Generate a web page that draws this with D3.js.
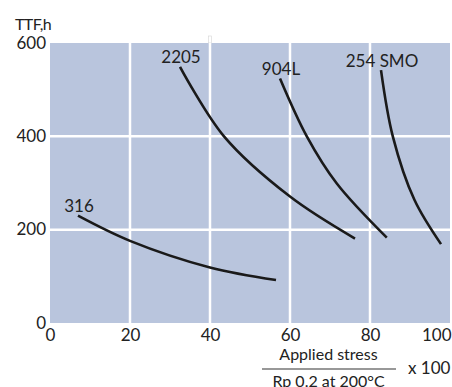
<!DOCTYPE html>
<html>
<head>
<meta charset="utf-8">
<script src="https://cdn.jsdelivr.net/npm/d3@7"></script>
<style>
  html, body { margin: 0; padding: 0; background: #fff; }
  svg { display: block; }
  text { font-family: Lato, "Open Sans", sans-serif; fill: #222; }
</style>
</head>
<body>
<script>
// ---- data ----
const xTicks = [0, 20, 40, 60, 80, 100];
const yTicks = [0, 200, 400, 600];
const seriesNames = ["316", "2205", "904L", "254 SMO"];
const s316 = [[7, 230], [20, 176], [40, 119], [56.5, 92]];
const s2205 = [[32.5, 549], [43.5, 400], [60, 271], [76.25, 181]];
const s904L = [[57.5, 524], [64.2, 400], [71.7, 299], [84.2, 183]];
const s254 = [[82.75, 542], [85.7, 400], [91.1, 264], [97.75, 169]];
const seriesValues = [s316, s2205, s904L, s254];
const yTitle = "TTF,h";
const xTitleTop = "Applied stress";
const xTitleBottom = "Rp 0.2 at 200°C";
const xTitleFactor = "x 100";

// ---- layout ----
const W = 452, H = 387;
const pL = 50, pR = 450, pT = 43, pB = 323;

const svg = d3.select("body").append("svg").attr("width", W).attr("height", H);

const x = d3.scaleLinear().domain([0, 100]).range([pL, pR]);
const y = d3.scaleLinear().domain([0, 600]).range([pB, pT]);

// plot background
svg.append("rect")
  .attr("x", pL).attr("y", pT)
  .attr("width", pR - pL).attr("height", pB - pT)
  .attr("fill", "#b9c5dd");

// small stub above plot at x=40
svg.append("rect")
  .attr("x", x(40) - 1.5).attr("y", 36)
  .attr("width", 3).attr("height", pT - 36)
  .attr("fill", "#fff").attr("stroke", "#d4d4d4").attr("stroke-width", 0.6);

// grid
const g = svg.append("g");
g.selectAll("line.v").data(xTicks.filter(d => d > 0 && d < 100)).enter().append("line")
  .attr("x1", d => x(d)).attr("x2", d => x(d))
  .attr("y1", pT).attr("y2", pB)
  .attr("stroke", "#fff").attr("stroke-width", 2.5);
g.selectAll("line.h").data(yTicks.filter(d => d > 0 && d < 600)).enter().append("line")
  .attr("y1", d => y(d)).attr("y2", d => y(d))
  .attr("x1", pL).attr("x2", pR)
  .attr("stroke", "#fff").attr("stroke-width", 2.5);

// axes (labels only)
const xAxis = d3.axisBottom(x).tickValues(xTicks).tickSize(0).tickPadding(0);
const xa = svg.append("g").attr("transform", `translate(0,${pB})`).call(xAxis);
xa.select(".domain").remove();
xa.selectAll("text").attr("dy", null).attr("y", 18)
  .style("font-size", "17px").style("font-family", "Lato, sans-serif").attr("fill", "#222")
  .attr("text-anchor", d => d === 100 ? "end" : "middle")
  .attr("x", d => d === 100 ? 1 : 0);

const yAxis = d3.axisLeft(y).tickValues(yTicks).tickSize(0).tickPadding(0);
const ya = svg.append("g").attr("transform", `translate(${pL - 4},0)`).call(yAxis);
ya.select(".domain").remove();
ya.selectAll("text").attr("dy", null).attr("y", 5).attr("x", 0)
  .style("font-size", "17px").style("font-family", "Lato, sans-serif").attr("fill", "#222");

// y title
svg.append("text").attr("x", 15).attr("y", 29.5).style("font-size", "16px")
  .style("letter-spacing", "-0.6px").text(yTitle);

// lines
const line = d3.line().x(d => x(d[0])).y(d => y(d[1])).curve(d3.curveCatmullRom.alpha(0.5));
svg.selectAll("path.series").data(seriesValues).enter().append("path")
  .attr("d", line).attr("fill", "none")
  .attr("stroke", "#1a1a1a").attr("stroke-width", 2.6).attr("stroke-linecap", "butt");

// series labels
svg.selectAll("text.lbl").data(seriesNames).enter().append("text")
  .attr("x", (d, i) => x(seriesValues[i][0][0]) + 1)
  .attr("y", (d, i) => y(seriesValues[i][0][1]) - 3.5)
  .attr("text-anchor", "middle").style("font-size", "17px").text(d => d);

// x title fraction
const fx = 328.5;
svg.append("text").attr("x", fx).attr("y", 360).attr("text-anchor", "middle")
  .style("font-size", "16px").text(xTitleTop);
svg.append("line").attr("x1", 262).attr("x2", 396).attr("y1", 369).attr("y2", 369)
  .attr("stroke", "#333").attr("stroke-width", 1.2);
svg.append("text").attr("x", fx).attr("y", 387).attr("text-anchor", "middle")
  .style("font-size", "16px").text(xTitleBottom);
svg.append("text").attr("x", 408).attr("y", 374)
  .style("font-size", "17px").text(xTitleFactor);
</script>
</body>
</html>
